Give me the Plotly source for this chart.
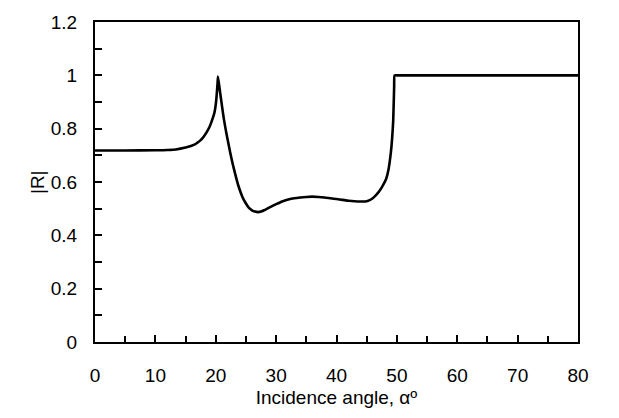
import plotly.graph_objects as go

angle = [0, 5, 10, 12, 13.4, 15, 16, 16.55, 17, 17.5, 18, 18.5, 19, 19.3, 19.6, 19.8, 20.0, 20.15, 20.3, 20.37,
         20.7, 21, 21.36, 21.8, 22.4, 23, 23.76, 24.4, 24.9, 25.5, 26, 26.5, 27, 27.5, 28,
         29, 30, 31, 32, 33, 34, 35, 36, 37, 38, 39, 40, 41, 42, 43, 44, 44.8,
         45.5, 46, 46.5, 46.9, 47.5, 48.2, 48.6, 49.0, 49.2, 49.4, 49.55, 49.62, 50, 60, 70, 80]
R_abs = [0.718, 0.718, 0.719, 0.72, 0.722, 0.729, 0.736, 0.741, 0.748, 0.757, 0.77, 0.787, 0.808, 0.826, 0.846, 0.862, 0.89, 0.925, 0.97, 0.995,
         0.94, 0.89, 0.834, 0.778, 0.71, 0.65, 0.585, 0.545, 0.523, 0.503, 0.494, 0.489, 0.487, 0.489, 0.494,
         0.506, 0.517, 0.527, 0.534, 0.539, 0.542, 0.544, 0.545, 0.544, 0.542, 0.539, 0.536, 0.533, 0.53, 0.528, 0.527, 0.527,
         0.532, 0.539, 0.55, 0.56, 0.58, 0.61, 0.645, 0.71, 0.76, 0.834, 0.96, 1.0, 1.0, 1.0, 1.0, 1.0]

x_ticks = [0, 10, 20, 30, 40, 50, 60, 70, 80]
y_ticks = [0, 0.2, 0.4, 0.6, 0.8, 1, 1.2]
y_labels = ["0", "0.2", "0.4", "0.6", "0.8", "1", "1.2"]

fig = go.Figure()
fig.add_trace(go.Scatter(x=angle, y=R_abs, mode="lines",
                         line=dict(color="black", width=2.6, shape="spline", smoothing=0.5),
                         showlegend=False))

font = dict(family="Liberation Sans, Arial, sans-serif", size=19, color="black")
fig.update_layout(
    width=619, height=418,
    margin=dict(l=95, r=41, t=16, b=76),
    paper_bgcolor="white", plot_bgcolor="white",
    font=font,
    xaxis=dict(range=[0, 80], tickvals=x_ticks, ticktext=[str(v) for v in x_ticks],
               ticks="inside", ticklen=7, tickwidth=2, tickcolor="black",
               ticklabelstandoff=15,
               minor=dict(dtick=5, tick0=0, ticks="inside", ticklen=6, tickwidth=2, tickcolor="black"),
               showline=True, linecolor="black", linewidth=2, mirror=True,
               showgrid=False, zeroline=False,
               title=dict(text="Incidence angle, αº", standoff=6, font=font)),
    yaxis=dict(range=[0, 1.2], tickvals=y_ticks, ticktext=y_labels,
               ticks="inside", ticklen=7, tickwidth=2, tickcolor="black",
               ticklabelstandoff=12,
               minor=dict(dtick=0.1, tick0=0, ticks="inside", ticklen=7, tickwidth=2, tickcolor="black"),
               showline=True, linecolor="black", linewidth=2, mirror=True,
               showgrid=False, zeroline=False),
    annotations=[dict(text="|R|", xref="paper", yref="paper", x=-0.12, y=0.5,
                      xanchor="center", yanchor="middle", textangle=-90,
                      showarrow=False, font=font)],
)
fig.write_html("out.html")
